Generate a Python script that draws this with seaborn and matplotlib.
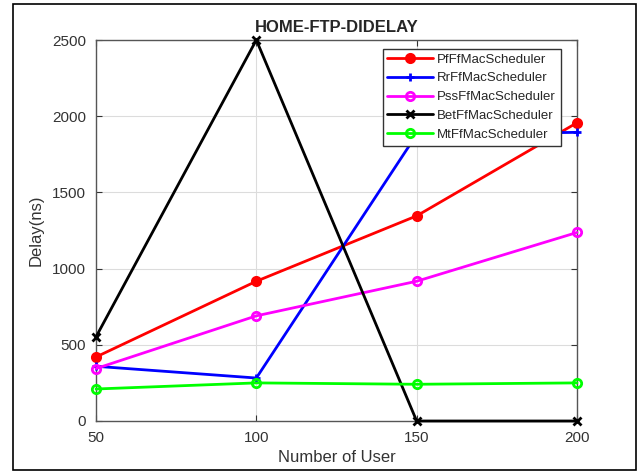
import pandas as pd
import matplotlib
matplotlib.use("Agg")
import matplotlib.pyplot as plt
import seaborn as sns
from matplotlib.patches import Rectangle

users = [50, 100, 150, 200]
pf = [420, 917, 1346, 1957]
rr = [359, 282, 1880, 1894]
pss = [344, 690, 917, 1237]
bet = [552, 2500, 0, 0]
mt = [210, 250, 241, 250]

series = [
    ("PfFfMacScheduler", pf, "#ff0000", "o", True),
    ("RrFfMacScheduler", rr, "#0000ff", "+", True),
    ("PssFfMacScheduler", pss, "#ff00ff", "o", False),
    ("BetFfMacScheduler", bet, "#000000", "x", True),
    ("MtFfMacScheduler", mt, "#00ff00", "o", False),
]

sns.set_style("whitegrid")
plt.rcParams['font.family'] = ['Liberation Sans', 'DejaVu Sans']

fig = plt.figure(figsize=(6.38, 4.72), dpi=100)
ax = fig.add_axes([96 / 638, 1 - 421 / 472, (577 - 96) / 638, (421 - 40) / 472])

for name, vals, col, mk, filled in series:
    df = pd.DataFrame({'users': users, 'delay': vals})
    sns.lineplot(data=df, x='users', y='delay', ax=ax, color=col, linewidth=2,
                 marker=mk, markersize=6, markeredgewidth=2,
                 markerfacecolor=col if filled else 'none',
                 markeredgecolor=col, label=name, clip_on=False, zorder=3)

ax.set_xlim(50, 200)
ax.set_ylim(0, 2500)
ax.set_xticks([50, 100, 150, 200])
ax.set_yticks([0, 500, 1000, 1500, 2000, 2500])
ax.grid(True, color='#dcdcdc', linewidth=0.8)
for s in ax.spines.values():
    s.set_color('#555555')
    s.set_linewidth(1)
    s.set_visible(True)
ax.tick_params(axis='both', labelsize=11, colors='#333333', length=4, direction='in',
               top=True, right=True, left=True, bottom=True, pad=7)
ax.set_xlabel('Number of User', fontsize=12, color='#333333', labelpad=4)
ax.set_ylabel('Delay(ns)', fontsize=12, color='#333333', labelpad=6)
ax.set_title('HOME-FTP-DIDELAY', fontsize=12, fontweight='bold', pad=6)

leg = ax.legend(loc='upper right', bbox_to_anchor=(0.966, 0.977), fontsize=9.5, frameon=True,
                fancybox=False, edgecolor='#333333', framealpha=1, handlelength=3.5,
                borderpad=0.35, labelspacing=0.5, handletextpad=0.3, borderaxespad=0)
leg.get_frame().set_linewidth(1)
leg.set_zorder(5)

fig.patches.append(Rectangle((13 / 638, 2 / 472), 623 / 638, 466 / 472, transform=fig.transFigure,
                             fill=False, edgecolor='black', linewidth=1.2))

fig.savefig('out.png', dpi=100)
